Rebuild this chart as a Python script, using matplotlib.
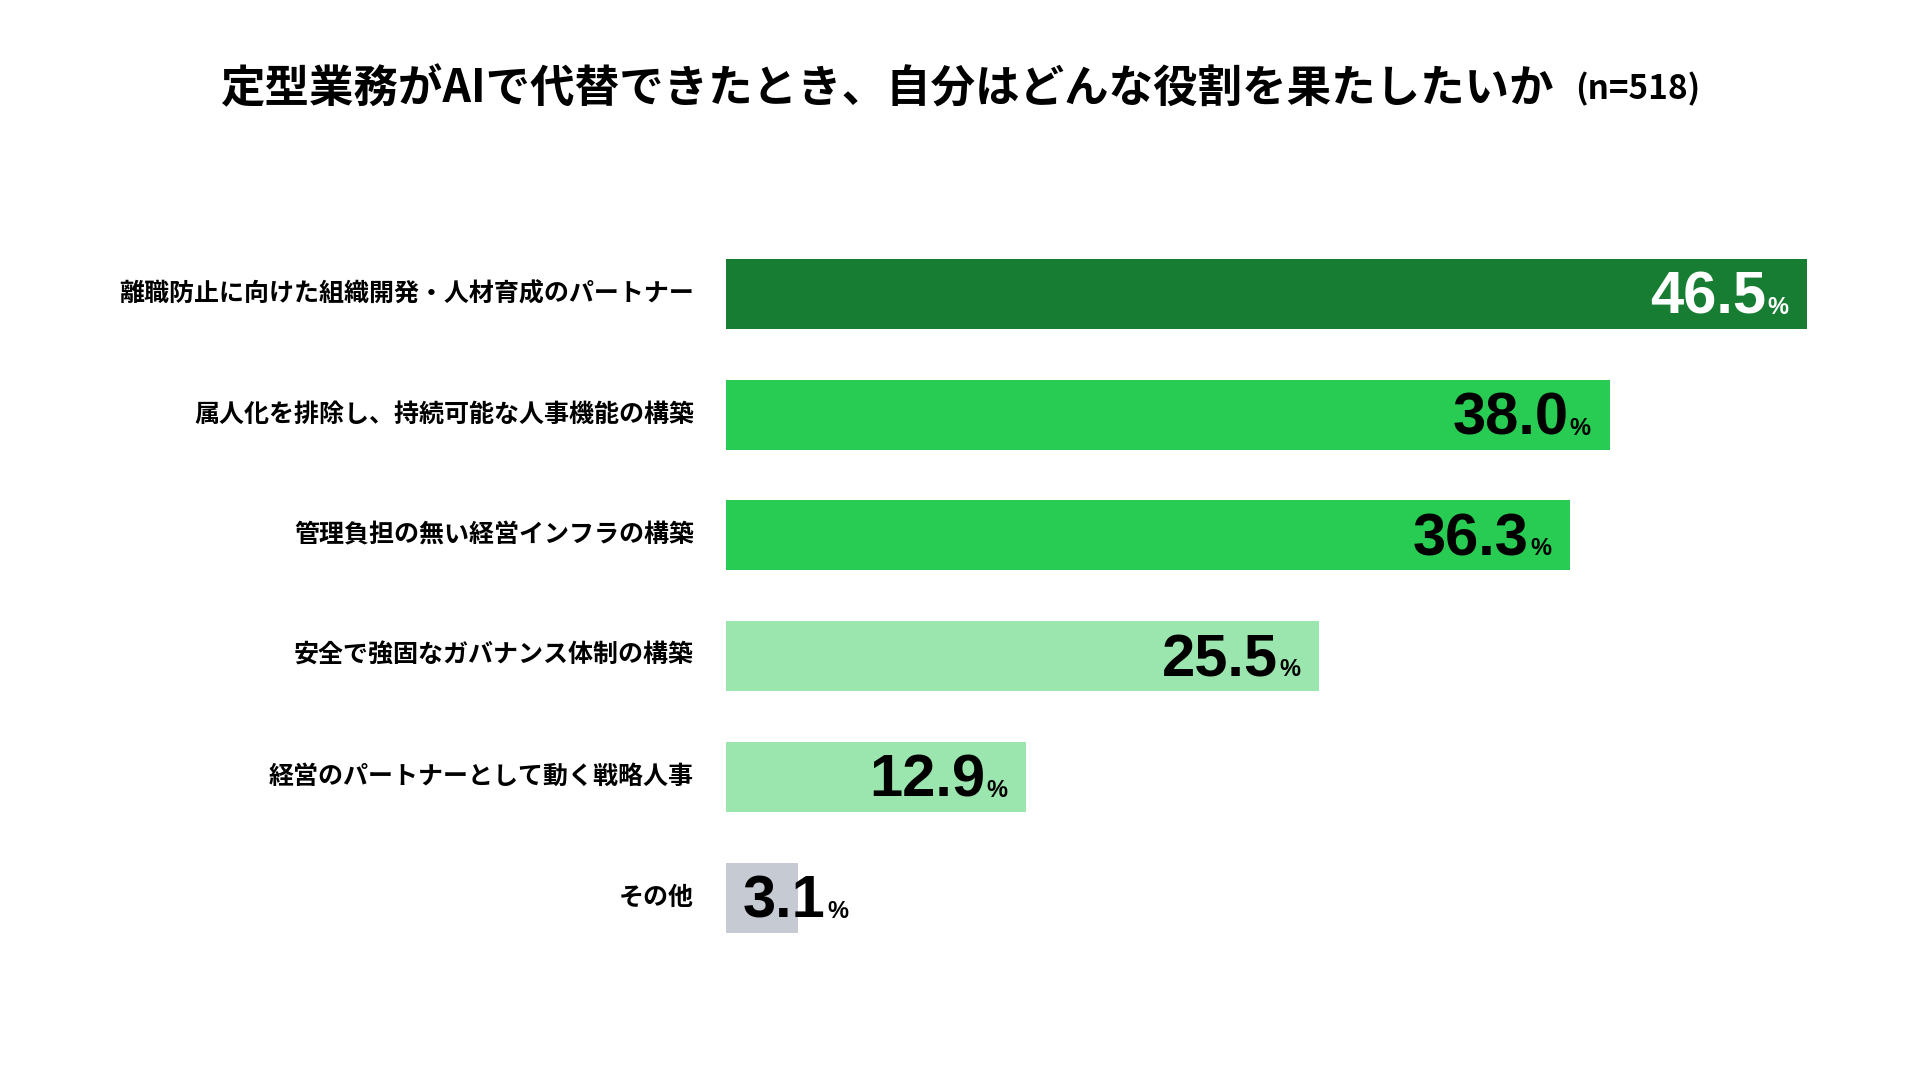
import matplotlib.pyplot as plt
from matplotlib.transforms import offset_copy

plt.rcParams['font.family'] = ['Noto Sans CJK JP', 'DejaVu Sans']

labels = ['離職防止に向けた組織開発・人材育成のパートナー',
          '属人化を排除し、持続可能な人事機能の構築',
          '管理負担の無い経営インフラの構築',
          '安全で強固なガバナンス体制の構築',
          '経営のパートナーとして動く戦略人事',
          'その他']
values = [46.5, 38.0, 36.3, 25.5, 12.9, 3.1]
colors = ['#177d33', '#29cc52', '#29cc52', '#9be6ae', '#9be6ae', '#c6cad3']
num_colors = ['white', 'black', 'black', 'black', 'black', 'black']

title = '定型業務がAIで代替できたとき、自分はどんな役割を果たしたいか'
subtitle = '(n=518)'

fig = plt.figure(figsize=(19.2, 10.8), dpi=100)
ax = fig.add_axes([726 / 1920, 0.113, 1140 / 1920, 0.6707])

ypos = list(range(len(values)))
ax.barh(ypos, values, height=0.58, color=colors)
ax.set_xlim(0, 1140 / 23.25)
ax.set_ylim(5.5, -0.5)
ax.axis('off')

renderer = fig.canvas.get_renderer()
num_font = dict(family='Liberation Sans', weight='bold')

for i, (v, c) in enumerate(zip(values, num_colors)):
    y = i + 0.165
    if v > 8:
        pct = ax.text(v, y, '%', fontsize=17, color=c, ha='right', va='baseline',
                      transform=offset_copy(ax.transData, fig=fig, x=-19, y=0, units='dots'),
                      **num_font)
        w = pct.get_window_extent(renderer).width
        ax.text(v, y, f'{v:.1f}', fontsize=43, color=c, ha='right', va='baseline',
                transform=offset_copy(ax.transData, fig=fig, x=-19 - w - 1, y=0, units='dots'),
                **num_font)
    else:
        num = ax.text(0, y, f'{v:.1f}', fontsize=43, color=c, ha='left', va='baseline',
                      transform=offset_copy(ax.transData, fig=fig, x=17, y=0, units='dots'),
                      **num_font)
        w = num.get_window_extent(renderer).width
        ax.text(0, y, '%', fontsize=17, color=c, ha='left', va='baseline',
                transform=offset_copy(ax.transData, fig=fig, x=17 + w + 2, y=0, units='dots'),
                **num_font)

for i, lab in enumerate(labels):
    ax.text(0, i, lab, fontsize=18, fontweight='bold', ha='right', va='center',
            transform=offset_copy(ax.transData, fig=fig, x=-32, y=0, units='dots'))

t1 = fig.text(0.5, 0.917, title, fontsize=32, fontweight='bold', ha='center', va='center')
w1 = t1.get_window_extent(renderer).width
t2 = fig.text(0.5, 0.917, subtitle, fontsize=24, fontweight='bold', ha='left', va='center')
w2 = t2.get_window_extent(renderer).width
gap = 22
total = w1 + gap + w2
left = (1920 - total) / 2
t1.set_ha('left')
t1.set_x(left / 1920)
t2.set_x((left + w1 + gap) / 1920)

fig.savefig('out.png', dpi=100, facecolor='white')
